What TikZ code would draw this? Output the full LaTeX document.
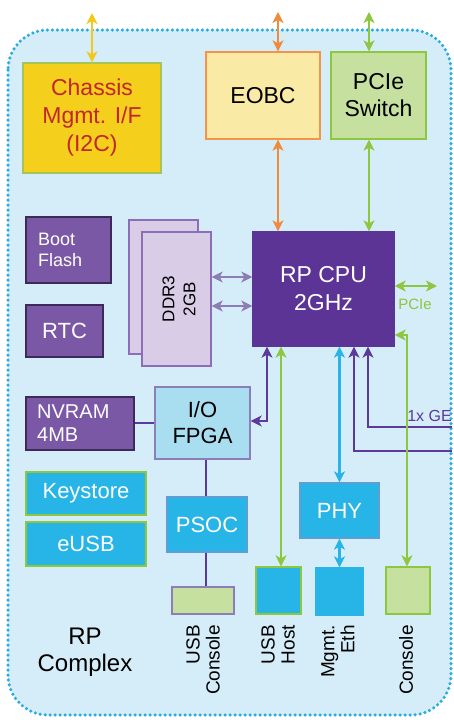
\documentclass[tikz,border=0pt]{standalone}
\usepackage{fontspec}
\setmainfont{Liberation Sans}
\usetikzlibrary{arrows.meta}
\definecolor{bgc}{HTML}{D5EDF8}
\definecolor{dotc}{HTML}{2AACE2}
\definecolor{chasf}{HTML}{F4CF1B}
\definecolor{chasb}{HTML}{A5C55A}
\definecolor{chast}{HTML}{C1272D}
\definecolor{eobcf}{HTML}{F9EAA5}
\definecolor{eobcb}{HTML}{F4934A}
\definecolor{lgreen}{HTML}{C6E0A0}
\definecolor{grn}{HTML}{8DC63F}
\definecolor{purf}{HTML}{7B58A6}
\definecolor{purb}{HTML}{3B2A5A}
\definecolor{ddrf}{HTML}{D8CCE6}
\definecolor{ddrb}{HTML}{8B6DB8}
\definecolor{cpuf}{HTML}{5B3495}
\definecolor{fpgaf}{HTML}{A9DDF0}
\definecolor{greyp}{HTML}{8C7EB8}
\definecolor{cyan}{HTML}{27B4E6}
\definecolor{cyanb}{HTML}{5E9ED3}
\definecolor{yarr}{HTML}{F2C81E}
\definecolor{oarr}{HTML}{F08A3C}
\definecolor{parr}{HTML}{5B3A9B}
\definecolor{darr}{HTML}{8D7DB5}
\newcommand\fz[2]{\fontsize{#1}{#2}\selectfont}
\begin{document}
\begin{tikzpicture}[x=1pt,y=-1pt,
  box/.style={draw, line width=1.3pt, inner sep=0pt, align=center},
  lbl/.style={inner sep=0pt, align=center},
  conn/.style={line width=2.8pt},
  >={Stealth[length=11pt,width=11pt,inset=3pt]}]
\useasboundingbox (0,0) rectangle (453,720);
\fill[white] (0,0) rectangle (453,720);
\draw[fill=bgc, draw=dotc, line width=3.5pt, dash pattern=on 0pt off 5pt, line cap=round, rounded corners=40pt] (8,30) rectangle (451,715);

% coordinates for free ends and line positions
\coordinate (yc) at (92,13);
\coordinate (oc) at (278,12);
\coordinate (gc) at (369,12);
\coordinate (d1) at (0,277);
\coordinate (d2) at (0,306);
\coordinate (pe) at (437,286);
\coordinate (c267) at (267,421);
\coordinate (c281) at (281,0);
\coordinate (c354) at (354,451);
\coordinate (c368) at (368,427);
\coordinate (e354) at (452,451);
\coordinate (e368) at (452,427);
\coordinate (c407) at (407,335);
\coordinate (n423) at (0,423);
\coordinate (c206) at (206,0);

% boxes
\node[box, fill=chasf, draw=chasb, text=chast, minimum width=138pt, minimum height=110pt, font=\fz{23}{28}] (chassis) at (92,118) {Chassis\\Mgmt. I/F\\(I2C)};
\node[box, fill=eobcf, draw=eobcb, minimum width=114pt, minimum height=87pt, font=\fz{23}{28}] (eobc) at (263,95.5) {EOBC};
\node[box, fill=lgreen, draw=grn, minimum width=95pt, minimum height=87pt, font=\fz{23}{27}] (pcie) at (378.5,95.5) {PCIe\\Switch};

\node[box, fill=purf, draw=purb, minimum width=85pt, minimum height=66pt] (boot) at (68.5,250) {};
\node[lbl, text=white, anchor=west, align=left, font=\fz{18}{21}] (boottx) at (38,250) {Boot\\Flash};
\node[box, fill=purf, draw=purb, minimum width=77pt, minimum height=52pt, text=white, font=\fz{22}{26}] (rtc) at (64.5,331) {RTC};

\node[box, fill=ddrf, draw=ddrb, minimum width=69pt, minimum height=134pt] (ddrb) at (163.5,287) {};
\node[box, fill=ddrf, draw=ddrb, minimum width=69pt, minimum height=134pt] (ddr) at (176.5,299) {};
\node[lbl, rotate=90, font=\fz{17}{21}] (ddrtx) at (179,299) {DDR3\\2GB};

\node[box, fill=cpuf, draw=cpuf, minimum width=141pt, minimum height=114pt, text=white, font=\fz{23}{28}] (cpu) at (323.5,289) {RP CPU\\2GHz};

\node[box, fill=purf, draw=purb, minimum width=108pt, minimum height=53pt] (nvram) at (80,423.5) {};
\node[lbl, text=white, anchor=west, align=left, font=\fz{20}{23}] (nvtx) at (37,423.5) {NVRAM\\4MB};
\node[box, fill=fpgaf, draw=greyp, minimum width=95pt, minimum height=72pt, font=\fz{22}{26}] (fpga) at (202.5,423) {I/O\\FPGA};

\node[box, fill=cyan, draw=grn, minimum width=120pt, minimum height=43pt, text=white, font=\fz{22}{26}] (key) at (86,493.5) {Keystore};
\node[box, fill=cyan, draw=grn, minimum width=120pt, minimum height=44pt, text=white, font=\fz{22}{26}] (eusb) at (86,544) {eUSB};
\node[box, fill=cyan, draw=cyanb, minimum width=80pt, minimum height=55pt, text=white, font=\fz{22}{26}] (psoc) at (207,524.5) {PSOC};
\node[box, fill=cyan, draw=cyanb, minimum width=79pt, minimum height=55pt, text=white, font=\fz{22}{26}] (phy) at (339.5,510.5) {PHY};

\node[box, fill=lgreen, draw=greyp, minimum width=62pt, minimum height=27pt] (usbcon) at (203,600.5) {};
\node[box, fill=cyan, draw=grn, minimum width=45pt, minimum height=47pt] (usbhost) at (278.5,590.5) {};
\node[box, fill=cyan, draw=cyan, minimum width=47pt, minimum height=47pt] (mgmt) at (339.5,591.5) {};
\node[box, fill=lgreen, draw=grn, minimum width=44pt, minimum height=47pt] (console) at (408,590.5) {};

% bottom labels
\node[lbl, rotate=90, anchor=east, align=right, font=\fz{19}{20}] (l1) at (203,625) {USB\\Console};
\node[lbl, rotate=90, anchor=east, align=right, font=\fz{19}{20}] (l2) at (278,625) {USB\\Host};
\node[lbl, rotate=90, anchor=east, align=right, font=\fz{19}{20}] (l3) at (338,625) {Mgmt.\\Eth};
\node[lbl, rotate=90, anchor=east, align=right, font=\fz{19}{20}] (l4) at (406,625) {Console};
\node[lbl, font=\fz{24}{27}] (rpc) at (85,652) {RP\\Complex};
\node[lbl, text=grn, font=\fz{15}{18}] (pcielbl) at (415,304) {PCIe};
\node[lbl, text=parr, anchor=base east, font=\fz{16}{18}] (gelbl) at (452,421) {1x GE};

% connectors
\draw[conn, yarr, <->] (chassis.north) -- (yc);
\draw[conn, oarr, <->] (oc |- eobc.north) -- (oc);
\draw[conn, oarr, <->] (oc |- eobc.south) -- (oc |- cpu.north);
\draw[conn, grn, <->] (gc |- pcie.north) -- (gc);
\draw[conn, grn, <->] (gc |- pcie.south) -- (gc |- cpu.north);
\draw[conn, darr, <->] (ddr.east |- d1) -- (cpu.west |- d1);
\draw[conn, darr, <->] (ddr.east |- d2) -- (cpu.west |- d2);
\draw[conn, grn, <->] (cpu.east |- pe) -- (pe);

\draw[conn, parr] (nvram.east |- n423) -- (fpga.west |- n423);
\draw[conn, parr] (c206 |- fpga.south) -- (c206 |- psoc.north);
\draw[conn, parr] (c206 |- psoc.south) -- (c206 |- usbcon.north);
\draw[conn, parr, <->] (fpga.east |- c267) -- (c267) -- (c267 |- cpu.south);
\draw[conn, parr, ->] (e354) -- (c354) -- (c354 |- cpu.south);
\draw[conn, parr, ->] (e368) -- (c368) -- (c368 |- cpu.south);
\draw[conn, grn, <->] (c281 |- usbhost.north) -- (c281 |- cpu.south);
\draw[conn, cyan, <->] (phy.north) -- (phy.north |- cpu.south);
\draw[conn, cyan, <->] (phy.south) -- (mgmt.north);
\draw[conn, grn, <->] (c407 |- console.north) -- (c407) -- (cpu.east |- c407);
\end{tikzpicture}
\end{document}
